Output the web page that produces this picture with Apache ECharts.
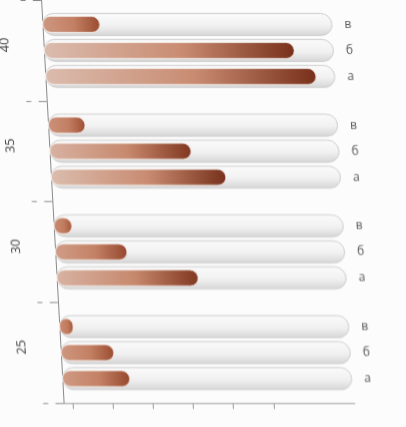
<!DOCTYPE html>
<html>
<head>
<meta charset="utf-8">
<script src="https://cdn.jsdelivr.net/npm/echarts@6/dist/echarts.min.js"></script>
<style>
html,body{margin:0;padding:0;background:#fcfcfc;}
#c{width:406px;height:427px;transform:skewX(3.2deg);transform-origin:50% 50%;}
</style>
</head>
<body>
<div id="c"></div>
<script>
// Data
const categories = ['25', '30', '35', '40'];
const seriesNames = ['в', 'б', 'а'];          // top to bottom inside each group
const valuesV = [5, 6.5, 13, 20];
const valuesB = [18.5, 25, 49, 86.5];
const valuesA = [23.5, 49, 60.5, 93.5];
const fullValue = [100, 100, 100, 100];
const xTickValues = [13, 53, 93, 133, 173, 214];

const seriesValues = [valuesV, valuesB, valuesA];

function lerpColor(c1, c2, t) {
  const a = parseInt(c1.slice(1), 16), b = parseInt(c2.slice(1), 16);
  const r = Math.round(((a >> 16) & 255) * (1 - t) + ((b >> 16) & 255) * t);
  const g = Math.round(((a >> 8) & 255) * (1 - t) + ((b >> 8) & 255) * t);
  const bl = Math.round((a & 255) * (1 - t) + (b & 255) * t);
  return 'rgb(' + r + ',' + g + ',' + bl + ')';
}
function fgStyle(v) {
  const t = Math.min(1, v / 60);
  const c0 = lerpColor('#c8866b', '#dbbcae', t);
  const c1 = lerpColor('#c07a5d', '#c98c72', t);
  const c2 = lerpColor('#a9583a', '#78301a', t);
  return {
    color: new echarts.graphic.LinearGradient(0, 0, 1, 0, [
      {offset: 0, color: c0}, {offset: 0.55, color: c1}, {offset: 1, color: c2}
    ]),
    borderRadius: 8,
    borderColor: 'rgba(255,255,255,0.7)',
    borderWidth: 1
  };
}

const bgStyle = {
  color: new echarts.graphic.LinearGradient(0, 0, 0, 1, [
    {offset: 0, color: '#fbfbfb'}, {offset: 0.55, color: '#f1f1f1'}, {offset: 1, color: '#d6d6d6'}
  ]),
  borderColor: '#cccccc',
  borderWidth: 1,
  borderRadius: 11
};

const series = [];
seriesNames.forEach((name, i) => {
  series.push({
    type: 'bar', name: name, xAxisIndex: 0, yAxisIndex: 1,
    data: fullValue, barWidth: 23, barGap: '13%', silent: true, z: 2,
    itemStyle: bgStyle,
    label: {show: true, position: 'right', distance: 12, formatter: name,
      color: '#555', fontSize: 12, fontFamily: 'Open Sans'}
  });
});
seriesNames.forEach((name, i) => {
  series.push({
    type: 'bar', name: name, xAxisIndex: 0, yAxisIndex: 0,
    data: seriesValues[i].map(v => ({value: v, itemStyle: fgStyle(v)})),
    barWidth: 17, barGap: '53%', silent: true, z: 3
  });
});
// empty series so the bottom axis grid is drawn
series.push({type: 'line', xAxisIndex: 1, yAxisIndex: 2, data: [], silent: true});

const chart = echarts.init(document.getElementById('c'), null, {renderer: 'canvas'});
chart.setOption({
  animation: false,
  backgroundColor: 'transparent',
  grid: [
    {left: 32.5, right: 63, top: -14, height: 417},
    {left: 49, right: 62, top: 402, height: 1}
  ],
  xAxis: [
    {type: 'value', gridIndex: 0, min: -7, max: 100, show: false},
    {type: 'value', gridIndex: 1, min: 0, max: 295, position: 'bottom',
      axisLine: {show: true, lineStyle: {color: '#9a9a9a', width: 1}},
      axisTick: {show: true, customValues: xTickValues, length: 6, lineStyle: {color: '#9a9a9a'}},
      axisLabel: {show: false}, splitLine: {show: false}}
  ],
  yAxis: [
    {type: 'category', gridIndex: 0, data: categories, position: 'left',
      axisLine: {show: true, lineStyle: {color: '#8a8a8a', width: 1}},
      axisTick: {show: true, length: 8, lineStyle: {color: '#8a8a8a'}},
      axisLabel: {rotate: 90, align: 'center', verticalAlign: 'middle', fontSize: 13,
        padding: [0, 0, 0, 11],
        color: '#3a3a3a', fontFamily: 'Open Sans', margin: 18},
      splitLine: {show: false}},
    {type: 'category', gridIndex: 0, data: categories, position: 'left', offset: 0,
      axisLine: {show: true, lineStyle: {color: 'rgba(0,0,0,0)'}},
      axisTick: {show: true, inside: true, length: 5, lineStyle: {color: '#8a8a8a'}},
      axisLabel: {show: false}, splitLine: {show: false}},
    {type: 'value', gridIndex: 1, show: false}
  ],
  series: series
});
</script>
</body>
</html>
